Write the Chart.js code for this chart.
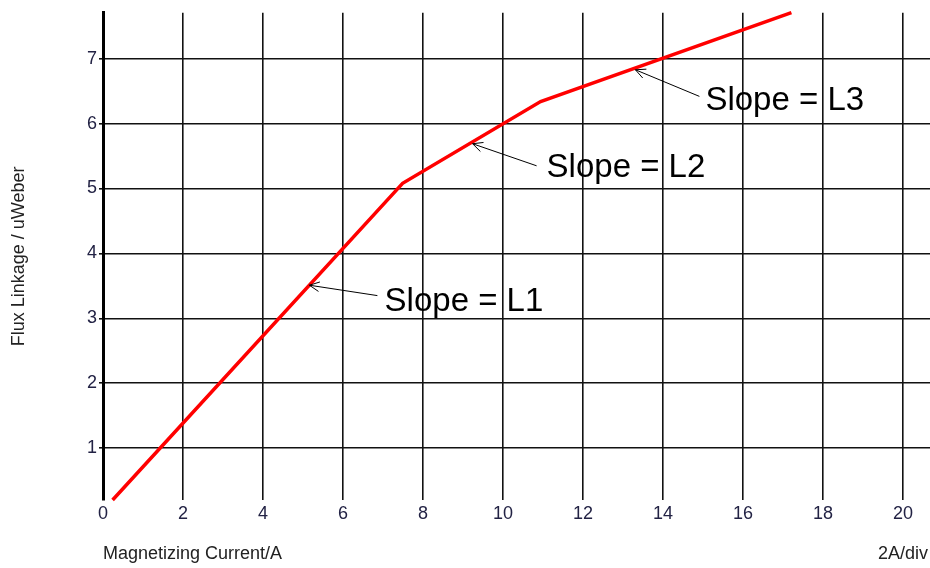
<!DOCTYPE html>
<html>
<head>
<meta charset="utf-8">
<script src="https://cdn.jsdelivr.net/npm/chart.js@4.4.1/dist/chart.umd.min.js"></script>
<style>
  html, body { margin: 0; padding: 0; background: #fff; }
  #wrap { width: 930px; height: 568px; position: relative; }
</style>
</head>
<body>
<div id="wrap"><canvas id="c" width="930" height="568"></canvas></div>
<script>
// ---- Data ----
const currentA = [0.24, 7.49, 10.94, 17.21];      // Magnetizing current (A)
const fluxLinkage = [0.2, 5.08, 6.34, 7.71];      // Flux linkage (uWeber)

const slopeLabels = ['Slope = L1', 'Slope = L2', 'Slope = L3'];
const arrowTipX  = [5.16, 9.24, 13.31];
const arrowTipY  = [3.51, 5.69, 6.83];
const arrowTailX = [6.86, 10.84, 14.91];
const arrowTailY = [3.35, 5.35, 6.42];
const labelX     = [7.04, 11.09, 15.06];
const labelY     = [3.26, 5.32, 6.35];

const xTitle = 'Magnetizing Current/A';
const yTitle = 'Flux Linkage / uWeber';
const divNote = '2A/div';

const FONT = "'Liberation Sans', Arial, sans-serif";

const points = currentA.map((x, i) => ({ x: x, y: fluxLinkage[i] }));

const annotPlugin = {
  id: 'annot',
  afterDatasetsDraw(chart) {
    const ctx = chart.ctx;
    const xs = chart.scales.x, ys = chart.scales.y;
    ctx.save();
    for (let i = 0; i < slopeLabels.length; i++) {
      const tx = xs.getPixelForValue(arrowTipX[i]), ty = ys.getPixelForValue(arrowTipY[i]);
      const sx = xs.getPixelForValue(arrowTailX[i]), sy = ys.getPixelForValue(arrowTailY[i]);
      ctx.strokeStyle = '#000';
      ctx.lineWidth = 1;
      ctx.beginPath();
      ctx.moveTo(sx, sy);
      ctx.lineTo(tx, ty);
      const ang = Math.atan2(ty - sy, tx - sx);
      const hl = 11, ha = 0.45;
      ctx.moveTo(tx - hl * Math.cos(ang - ha), ty - hl * Math.sin(ang - ha));
      ctx.lineTo(tx, ty);
      ctx.lineTo(tx - hl * Math.cos(ang + ha), ty - hl * Math.sin(ang + ha));
      ctx.stroke();
      ctx.fillStyle = '#000';
      ctx.font = '33px ' + FONT;
      ctx.textAlign = 'left';
      ctx.textBaseline = 'middle';
      ctx.fillText(slopeLabels[i], xs.getPixelForValue(labelX[i]), ys.getPixelForValue(labelY[i]));
    }
    // "2A/div" note at bottom right
    ctx.fillStyle = '#222';
    ctx.font = '18px ' + FONT;
    ctx.textAlign = 'right';
    ctx.textBaseline = 'middle';
    ctx.fillText(divNote, chart.width - 2, 554);
    ctx.restore();
  }
};

new Chart(document.getElementById('c'), {
  type: 'line',
  data: {
    datasets: [{
      data: points,
      borderColor: '#ff0000',
      borderWidth: 3.5,
      pointRadius: 0,
      tension: 0,
      fill: false,
      clip: false
    }]
  },
  options: {
    responsive: false,
    animation: false,
    events: [],
    layout: { padding: { top: 12, right: 0, left: 0, bottom: 0 } },
    plugins: { legend: { display: false }, tooltip: { enabled: false } },
    scales: {
      x: {
        type: 'linear',
        min: 0,
        max: 20.675,
        afterFit(s) { s.height = 68; },
        ticks: { stepSize: 2, includeBounds: false, padding: 3, color: '#222244', font: { family: FONT, size: 18 }, maxRotation: 0 },
        grid: { color: '#111', lineWidth: 1.6, drawTicks: false },
        border: { display: false },
        title: { display: true, text: xTitle, align: 'start', color: '#222', font: { family: FONT, size: 18 }, padding: { top: 0, bottom: 3 } }
      },
      y: {
        type: 'linear',
        min: 0.2,
        max: 7.708,
        afterFit(s) { s.width = 103; },
        ticks: { stepSize: 1, includeBounds: false, padding: 2, color: '#222244', font: { family: FONT, size: 18 } },
        grid: { color: '#111', lineWidth: 1.6, drawTicks: true, tickLength: 4 },
        border: { display: true, color: '#000', width: 3 },
        title: { display: true, text: yTitle, color: '#222', font: { family: FONT, size: 18 }, padding: { top: 8, bottom: 0 } }
      }
    }
  },
  plugins: [annotPlugin]
});
</script>
</body>
</html>
